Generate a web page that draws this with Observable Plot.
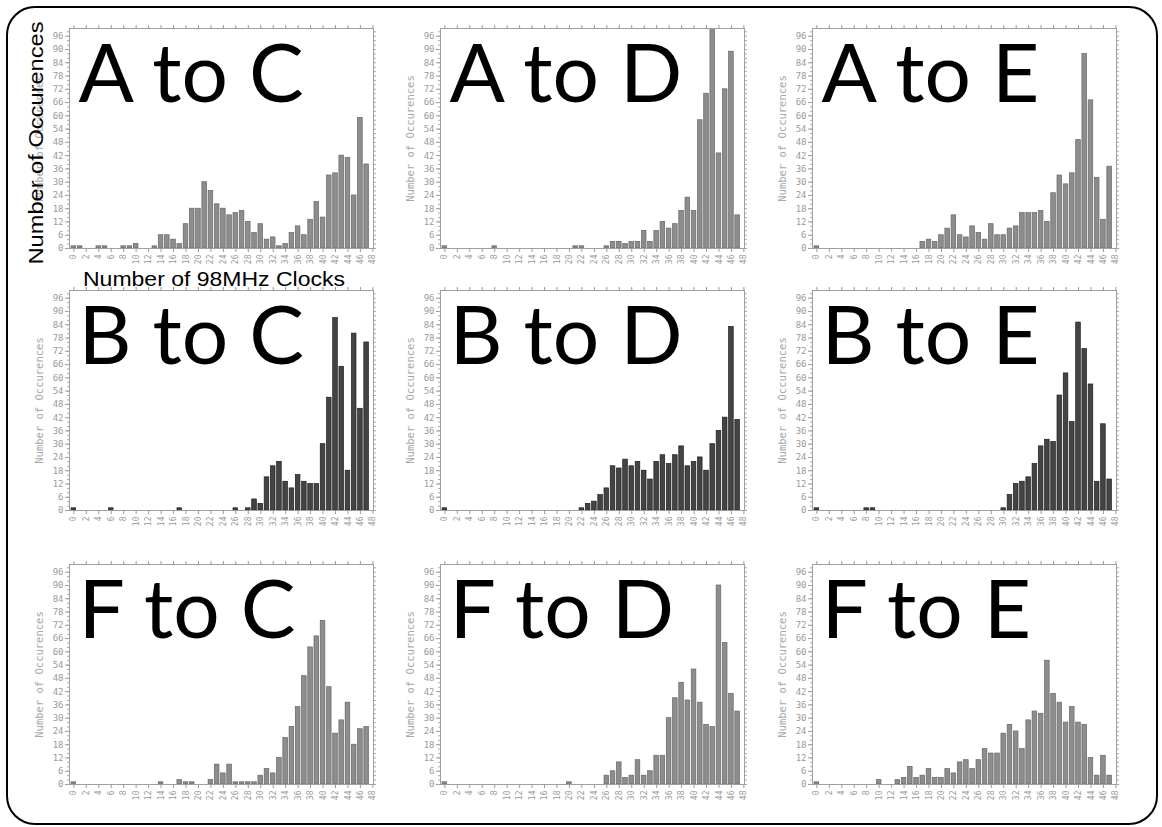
<!DOCTYPE html>
<html>
<head>
<meta charset="utf-8">
<script src="https://cdn.jsdelivr.net/npm/d3@7"></script>
<script src="https://cdn.jsdelivr.net/npm/@observablehq/plot@0.6"></script>
<style>
  html, body { margin: 0; padding: 0; background: white; }
  #page { position: relative; width: 1162px; height: 827px; background: white; overflow: hidden; }
  .panel { position: absolute; }
  #overlay { position: absolute; left: 0; top: 0; pointer-events: none; }
</style>
</head>
<body>
<div id="page"></div>
<script>
// ---- Data (counts per number of 98MHz clocks, 0..47) ----
const titles = ["A to C", "A to D", "A to E", "B to C", "B to D", "B to E", "F to C", "F to D", "F to E"];
const aToC = [1,1,0,0,1,1,0,0,1,1, 2,0,0,1,6,6,4,2,11,18, 18,30,26,20,18,15,16,17,12,7, 11,4,5,1,2,7,10,6,13,21, 14,33,34,42,41,24,59,38];
const aToD = [1,0,0,0,0,0,0,0,1,0, 0,0,0,0,0,0,0,0,0,0, 0,1,1,0,0,0,1,3,3,2, 3,3,8,3,8,12,9,11,17,23, 17,58,70,104,43,72,89,15];
const aToE = [1,0,0,0,0,0,0,0,0,0, 0,0,0,0,0,0,0,3,4,3, 6,9,15,6,5,10,7,4,11,6, 6,9,10,16,16,16,17,12,25,33, 29,34,49,88,67,32,13,37];
const bToC = [1,0,0,0,0,0,1,0,0,0, 0,0,0,0,0,0,0,1,0,0, 0,0,0,0,0,0,1,0,1,5, 3,15,20,22,13,10,16,13,12,12, 30,51,87,65,18,80,46,76];
const bToD = [1,0,0,0,0,0,0,0,0,0, 0,0,0,0,0,0,0,0,0,0, 0,0,1,3,4,7,10,20,19,23, 20,22,18,14,22,25,21,25,29,20, 22,24,18,30,36,42,83,41];
const bToE = [1,0,0,0,0,0,0,0,1,1, 0,0,0,0,0,0,0,0,0,0, 0,0,0,0,0,0,0,0,0,0, 1,7,12,13,15,21,29,32,31,52, 62,40,85,73,57,13,39,14];
const fToC = [1,0,0,0,0,0,0,0,0,0, 0,0,0,0,1,0,0,2,1,1, 0,0,2,9,5,9,1,1,1,1, 4,7,5,12,21,26,35,49,62,67, 74,44,23,29,37,18,25,26];
const fToD = [1,0,0,0,0,0,0,0,0,0, 0,0,0,0,0,0,0,0,0,0, 1,0,0,0,0,0,4,6,10,3, 4,11,4,6,13,13,30,39,46,38, 52,37,27,26,90,64,41,33];
const fToE = [1,0,0,0,0,0,0,0,0,0, 2,0,0,2,3,8,3,4,7,3, 3,7,5,10,11,7,11,16,14,14, 23,27,24,16,29,33,32,56,41,37, 28,35,28,27,12,4,13,4];
const series = [aToC, aToD, aToE, bToC, bToD, bToE, fToC, fToD, fToE];
const xTicks = [0,2,4,6,8,10,12,14,16,18,20,22,24,26,28,30,32,34,36,38,40,42,44,46,48];
const yTicks = [0,6,12,18,24,30,36,42,48,54,60,66,72,78,84,90,96];
const yMinor = d3.range(0, 100, 2);
const yLabel = "Number of Occurences";
const bigYLabel = "Number of Occurences";
const bigXLabel = "Number of 98MHz Clocks";

// ---- Layout ----
const colLeft = [69, 440, 812];
const rowTop = [28, 290, 564];
const FW = 304, FH = 220;
const ML = 44, MR = 10, MT = 8, MB = 26;
const mono = "'DejaVu Sans Mono', monospace";
const page = document.getElementById("page");

series.forEach((values, k) => {
  const row = Math.floor(k / 3), col = k % 3;
  const dark = row === 1;
  const data = values.map((v, i) => ({clocks: i, count: v}));
  const chart = Plot.plot({
    width: ML + FW + MR,
    height: MT + FH + MB,
    marginLeft: ML, marginRight: MR, marginTop: MT, marginBottom: MB,
    style: {background: "transparent", overflow: "visible"},
    x: {domain: [-0.7, 48.1]},
    y: {domain: [0, 99.5]},
    marks: [
      Plot.rectY(data, {
        x1: d => d.clocks - 0.37, x2: d => d.clocks + 0.37, y: "count",
        fill: dark ? "#444444" : "#8d8d8d",
        stroke: dark ? "#1e1e1e" : "#666666",
        strokeWidth: 0.7,
        clip: true
      }),
      Plot.frame({stroke: "#a0a0a0"}),
      Plot.axisX({ticks: xTicks, anchor: "bottom", tickSize: 4, tickPadding: 2, tickRotate: -90,
        color: "#9a9a9a", fontSize: 8, fontFamily: mono, label: null}),
      Plot.axisX({ticks: xTicks, anchor: "top", tickSize: 4, text: null, color: "#9a9a9a", label: null}),
      Plot.axisY({ticks: yTicks, anchor: "left", tickSize: 4, tickPadding: 2,
        color: "#9a9a9a", fontSize: 9, fontFamily: mono, label: null}),
      Plot.axisY({ticks: yMinor, anchor: "left", tickSize: 2, text: null, color: "#aaaaaa", label: null}),
      Plot.axisY({ticks: yMinor, anchor: "right", tickSize: 2, text: null, color: "#aaaaaa", label: null}),
      Plot.text([yLabel], {text: d => d, frameAnchor: "left", dx: -30, rotate: -90,
        textAnchor: "middle", fontSize: 10.5, fontFamily: mono, fill: "#a8a8a8"}),
      Plot.text([titles[k]], {text: d => d, frameAnchor: "top-left", dx: 9, dy: 73,
        lineAnchor: "bottom", textAnchor: "start", fontSize: 82, fontFamily: "Lato", fill: "black"})
    ]
  });
  chart.classList.add("panel");
  chart.style.left = (colLeft[col] - ML) + "px";
  chart.style.top = (rowTop[row] - MT) + "px";
  page.appendChild(chart);
});

// ---- Overlay: border and large axis titles ----
const ns = "http://www.w3.org/2000/svg";
const ov = document.createElementNS(ns, "svg");
ov.setAttribute("id", "overlay");
ov.setAttribute("width", 1162);
ov.setAttribute("height", 827);
const rect = document.createElementNS(ns, "rect");
rect.setAttribute("x", 7); rect.setAttribute("y", 7);
rect.setAttribute("width", 1150); rect.setAttribute("height", 817);
rect.setAttribute("rx", 28); rect.setAttribute("ry", 28);
rect.setAttribute("fill", "none"); rect.setAttribute("stroke", "black"); rect.setAttribute("stroke-width", 2);
ov.appendChild(rect);
const t1 = document.createElementNS(ns, "text");
t1.textContent = bigYLabel;
t1.setAttribute("transform", "translate(43,143) rotate(-90)");
t1.setAttribute("text-anchor", "middle");
t1.setAttribute("font-family", "'Liberation Sans', Arial, sans-serif");
t1.setAttribute("font-size", 21);
t1.setAttribute("textLength", 243);
t1.setAttribute("lengthAdjust", "spacingAndGlyphs");
ov.appendChild(t1);
const t2 = document.createElementNS(ns, "text");
t2.textContent = bigXLabel;
t2.setAttribute("x", 83); t2.setAttribute("y", 286);
t2.setAttribute("font-family", "'Liberation Sans', Arial, sans-serif");
t2.setAttribute("font-size", 20);
t2.setAttribute("textLength", 262);
t2.setAttribute("lengthAdjust", "spacingAndGlyphs");
ov.appendChild(t2);
page.appendChild(ov);
</script>
</body>
</html>
